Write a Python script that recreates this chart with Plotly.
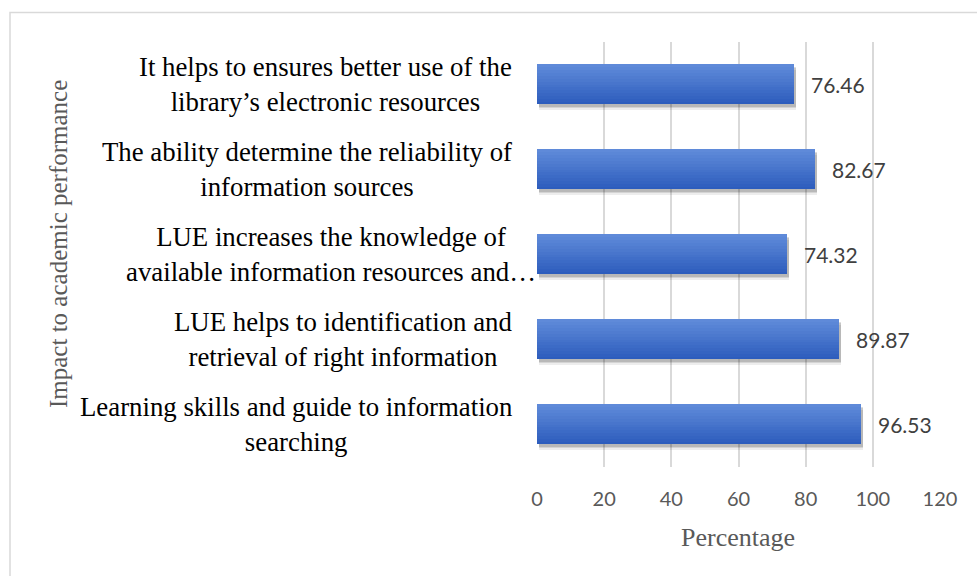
import plotly.graph_objects as go

# Survey results: share of respondents agreeing with each statement (bottom to top)
categories = [
    "Learning skills and guide to information searching",
    "LUE helps to identification and retrieval of right information",
    "LUE increases the knowledge of available information resources and…",
    "The ability determine the reliability of information sources",
    "It helps to ensures better use of the library’s electronic resources",
]
label_lines = [
    ["Learning skills and guide to information", "searching"],
    ["LUE helps to identification and", "retrieval of right information"],
    ["LUE increases the knowledge of", "available information resources and…"],
    ["The ability determine the reliability of", "information sources"],
    ["It helps to ensures better use of the", "library’s electronic resources"],
]
values = [96.53, 89.87, 74.32, 82.67, 76.46]
x_ticks = [0, 20, 40, 60, 80, 100, 120]

# Page geometry (pixels)
FIG_W, FIG_H = 977, 576
L, R, T, B = 537, 37, 42, 109
PW, PH = FIG_W - L - R, FIG_H - T - B


def px_x(px):
    return (px - L) / PW


def px_y(py):
    return 1 - (py - T) / PH


SERIF = "Liberation Serif"
SANS = "Lato"

BAR_W = 0.47
fig = go.Figure()

# soft drop shadow under each bar
for dy, alpha in [(0.06, 0.07), (0.045, 0.10), (0.03, 0.13)]:
    fig.add_trace(go.Bar(
        y=categories, x=values, orientation="h", base=0.6,
        width=BAR_W, offset=-BAR_W / 2 - dy,
        marker=dict(color=f"rgba(0,0,0,{alpha})", line=dict(width=0)),
        hoverinfo="skip", showlegend=False,
    ))

# bars drawn as thin horizontal strips to give a vertical colour gradient
top_rgb = (95, 138, 217)
bot_rgb = (45, 93, 189)
N = 14
for i in range(N):
    t = i / (N - 1)
    c = tuple(round(b + (a - b) * t) for a, b in zip(top_rgb, bot_rgb))
    fig.add_trace(go.Bar(
        y=categories, x=values, orientation="h",
        width=BAR_W / N + 0.002, offset=-BAR_W / 2 + i * BAR_W / N,
        marker=dict(color=f"rgb{c}", line=dict(width=0)),
        hoverinfo="skip", showlegend=False,
    ))

annotations = []
# value labels
for cat, v in zip(categories, values):
    annotations.append(dict(
        x=v, y=cat, xref="x", yref="y", text=f"{v:.2f}", showarrow=False,
        xanchor="left", yanchor="middle", xshift=15,
        font=dict(family=SANS, size=21, color="#404040"),
    ))

# category labels, centred lines
for cat, lines in zip(categories, label_lines):
    overflow = lines[-1].endswith("…")
    annotations.append(dict(
        x=px_x(538 if overflow else 514), y=cat, xref="paper", yref="y",
        text="<br>".join(lines), showarrow=False, align="center",
        xanchor="right", yanchor="middle",
        font=dict(family=SERIF, size=26.8, color="#000000"),
    ))

# axis titles
annotations.append(dict(
    x=px_x(738), y=px_y(537), xref="paper", yref="paper", text="Percentage",
    showarrow=False, xanchor="center", yanchor="middle",
    font=dict(family=SERIF, size=26, color="#595959"),
))
annotations.append(dict(
    x=px_x(58), y=px_y(244), xref="paper", yref="paper",
    text="Impact to academic performance", textangle=-90,
    showarrow=False, xanchor="center", yanchor="middle",
    font=dict(family=SERIF, size=25, color="#595959"),
))

fig.update_layout(
    width=FIG_W, height=FIG_H,
    margin=dict(l=L, r=R, t=T, b=B, pad=0),
    paper_bgcolor="white", plot_bgcolor="white",
    barmode="overlay", bargap=0,
    showlegend=False,
    annotations=annotations,
    shapes=[dict(
        type="rect", xref="paper", yref="paper",
        x0=px_x(10), x1=px_x(FIG_W + 5), y0=px_y(FIG_H + 5), y1=px_y(12.5),
        line=dict(color="#d9d9d9", width=1.5), fillcolor="rgba(0,0,0,0)",
        layer="below",
    )],
    xaxis=dict(
        range=[0, 120], tickvals=x_ticks, ticktext=[str(t) for t in x_ticks],
        showgrid=True, gridcolor="#d9d9d9", gridwidth=1.5,
        zeroline=False, showline=False, ticks="",
        ticklabelstandoff=18,
        tickfont=dict(family=SANS, size=20, color="#595959"),
        fixedrange=True,
    ),
    yaxis=dict(
        categoryorder="array", categoryarray=categories,
        showticklabels=False, showgrid=False, zeroline=False, showline=False,
        ticks="", range=[-0.5, len(categories) - 0.5], fixedrange=True,
    ),
)

fig.write_html("out.html")
